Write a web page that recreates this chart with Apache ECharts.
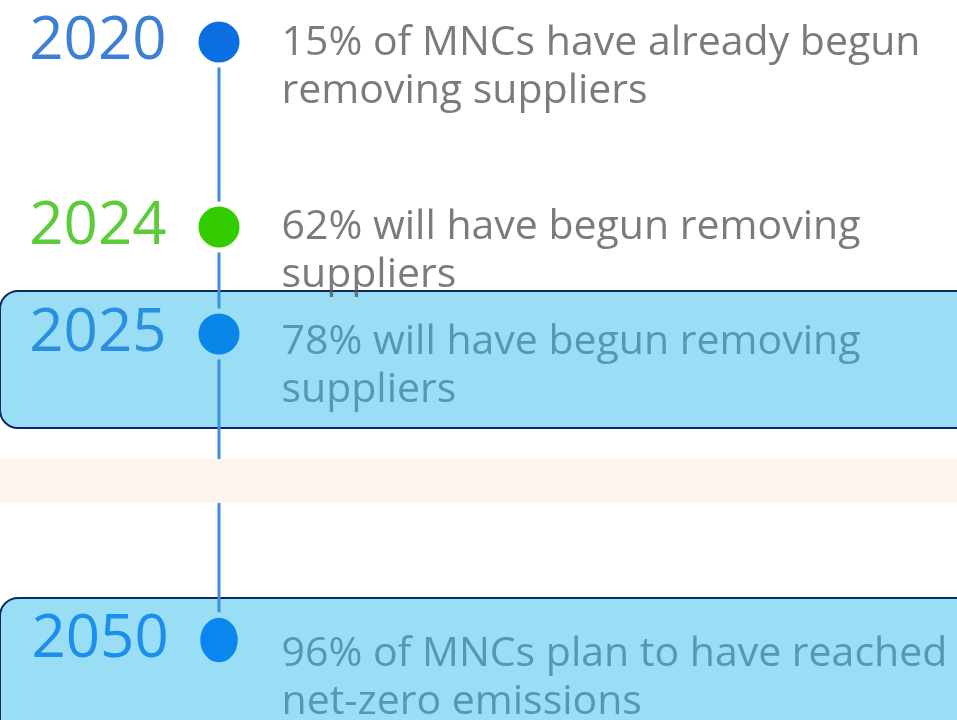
<!DOCTYPE html>
<html>
<head>
<meta charset="utf-8">
<title>MNC supplier timeline</title>
<script src="https://cdn.jsdelivr.net/npm/echarts@6/dist/echarts.min.js"></script>
<style>
    html, body { margin: 0; padding: 0; background: #ffffff; }
    #chart { width: 957px; height: 720px; }
</style>
</head>
<body>
<div id="chart"></div>
<script>
// timeline milestones
var years = ['2020', '2024', '2025', '2050'];
var notes = [
    '15% of MNCs have already begun\nremoving suppliers',
    '62% will have begun removing\nsuppliers',
    '78% will have begun removing\nsuppliers',
    '96% of MNCs plan to have reached\nnet-zero emissions'
];
// vertical slot of each milestone on the layout axis (0 = top, 720 = bottom)
var rows = [42, 227, 334, 640];
var noteRows = [44, 228, 343, 655];
var highlighted = [false, false, true, true];

var yearColors = ['#3b7fd6', '#5ccb3a', '#2b8fe0', '#1b8fec'];
var dotColors = ['#0a6fe0', '#33cc00', '#0a86e8', '#0a86ee'];

var BOX_FILL = '#9adef6';
var chart = echarts.init(document.getElementById('chart'));

var dotData = years.map(function (y, i) {
    return {
        value: [0, rows[i]],
        name: y,
        symbolSize: i === 3 ? [42, 50] : 46,
        itemStyle: {
            color: dotColors[i],
            opacity: 1,
            borderColor: highlighted[i] ? BOX_FILL : '#ffffff',
            borderWidth: 5
        },
        label: { color: yearColors[i] }
    };
});

var noteData = notes.map(function (n, i) {
    return {
        value: [0, noteRows[i]],
        name: n,
        label: { color: highlighted[i] ? '#45869f' : '#5a5a5a' }
    };
});

var option = {
    animation: false,
    grid: { left: 0, top: 0, width: 438, height: 720, containLabel: false },
    xAxis: {
        type: 'category',
        data: ['timeline'],
        show: false
    },
    yAxis: {
        type: 'value',
        min: 0,
        max: 720,
        inverse: true,
        show: false
    },
    graphic: [
        {   // 2025 highlight box
            type: 'rect', z: -10,
            shape: { x: 0, y: 291, width: 1000, height: 137, r: 18 },
            style: { fill: BOX_FILL, stroke: '#0c2766', lineWidth: 2 }
        },
        {   // 2050 highlight box
            type: 'rect', z: -10,
            shape: { x: 0, y: 598, width: 1000, height: 200, r: 18 },
            style: { fill: BOX_FILL, stroke: '#0c2766', lineWidth: 2 }
        },
        {   // pale band crossing the spine
            type: 'rect', z: 100,
            shape: { x: 0, y: 459, width: 957, height: 44 },
            style: { fill: '#fdf5ee' }
        }
    ],
    series: [
        {
            type: 'line',
            z: 1,
            symbol: 'none',
            data: [[0, rows[0]], [0, rows[rows.length - 1]]],
            lineStyle: { color: '#3f8ee3', width: 3 }
        },
        {
            type: 'scatter',
            z: 3,
            data: dotData,
            label: {
                show: true,
                position: 'left',
                distance: 27,
                formatter: '{b}',
                fontFamily: 'Open Sans',
                fontSize: 60,
                fontWeight: 'normal'
            }
        },
        {
            type: 'scatter',
            z: 3,
            symbolSize: 1,
            itemStyle: { color: 'rgba(0,0,0,0)' },
            data: noteData,
            label: {
                show: true,
                position: [63, -24],
                align: 'left',
                verticalAlign: 'top',
                formatter: '{b}',
                fontFamily: 'Open Sans',
                fontSize: 41,
                lineHeight: 48
            }
        }
    ]
};

chart.setOption(option);
</script>
</body>
</html>
